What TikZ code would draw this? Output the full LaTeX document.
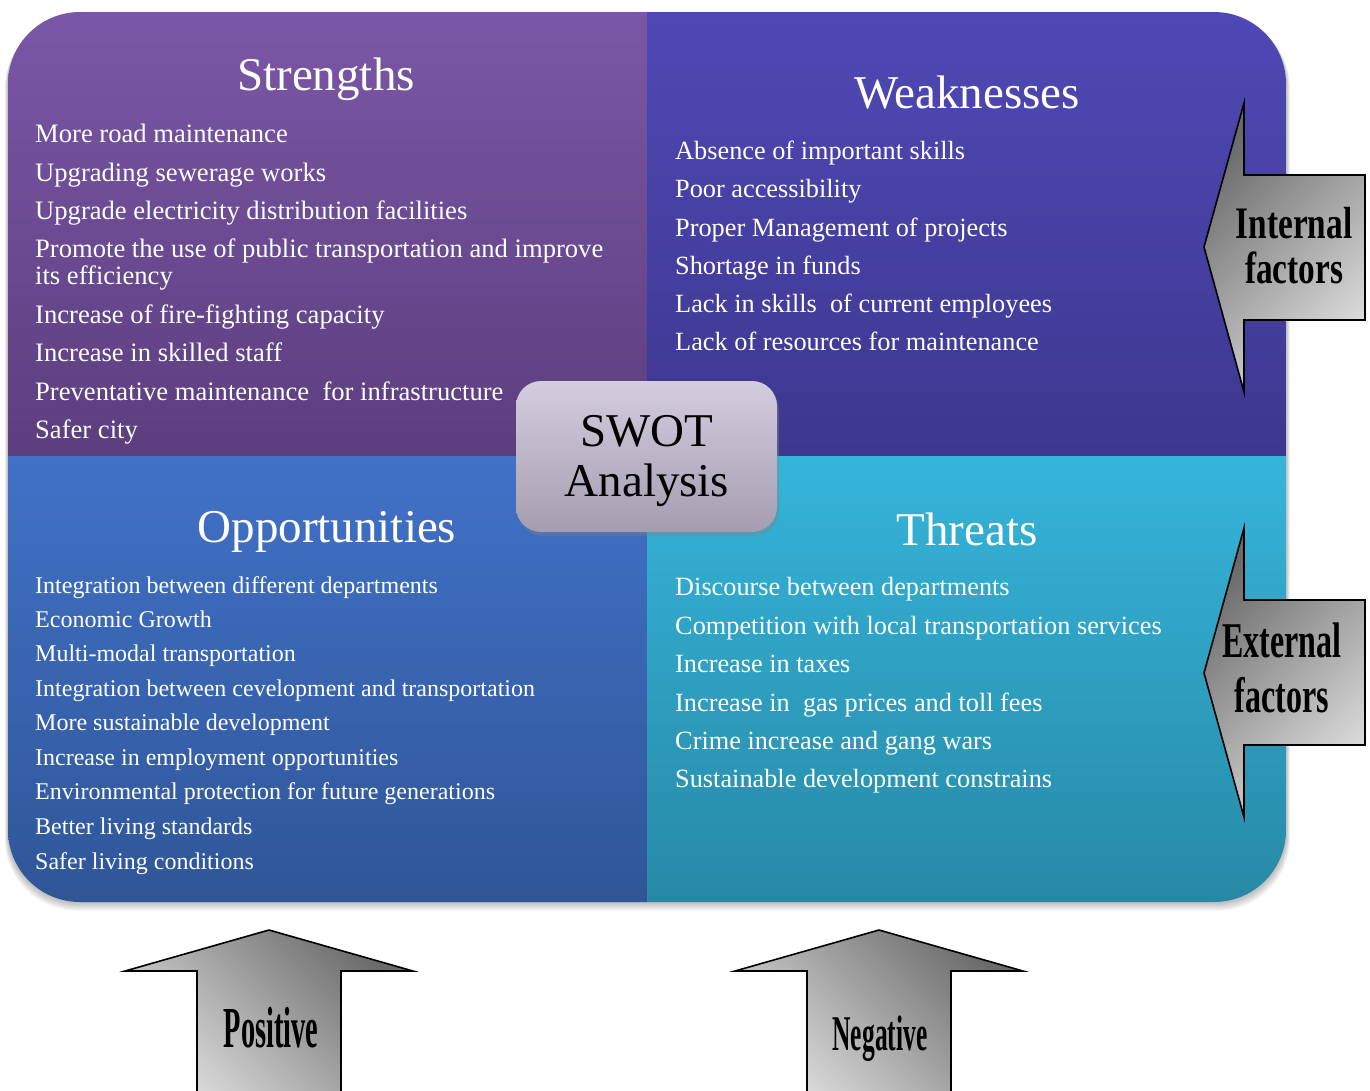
\documentclass[tikz,border=0pt]{standalone}
\usepackage{fontspec}
\setmainfont{Liberation Serif}
\usetikzlibrary{shadows}
\definecolor{sTop}{HTML}{7B58A7}
\definecolor{sBot}{HTML}{5C3E7E}
\definecolor{wTop}{HTML}{5049B6}
\definecolor{wBot}{HTML}{3D378F}
\definecolor{oTop}{HTML}{4172C8}
\definecolor{oBot}{HTML}{2F5596}
\definecolor{tTop}{HTML}{35B5DA}
\definecolor{tBot}{HTML}{2788A5}
\definecolor{cTop}{HTML}{D4CDE0}
\definecolor{cBot}{HTML}{A39DAF}
\definecolor{arDark}{HTML}{6A6A6A}
\definecolor{arLight}{HTML}{DEDEDE}
\begin{document}
\begin{tikzpicture}[x=1pt,y=-1pt,
  bodyA/.style={anchor=base west,text=white,inner sep=0pt,font=\fontsize{26.6}{28}\selectfont},
  bodyB/.style={anchor=base west,text=white,inner sep=0pt,font=\fontsize{26.3}{28}\selectfont},
  bodyC/.style={anchor=base west,text=white,inner sep=0pt,font=\fontsize{24}{26}\selectfont},
  quadtitle/.style={anchor=base,text=white,inner sep=0pt,font=\fontsize{47}{50}\selectfont},
  bigarrow/.style={draw=black,line width=1.6pt,line join=miter,top color=arDark,bottom color=arLight},
  arrowtext/.style={anchor=base,inner sep=0pt,text=black}]
\useasboundingbox (0,0) rectangle (1370,1090);
% soft shadow of the main panel
\foreach \i in {1,...,8}
  \fill[black,opacity=0.035,rounded corners=72pt] (8-\i*0.4,12+\i*0.6) rectangle (1286+\i*0.5,902+\i*1.1);
% quadrants
\begin{scope}
  \clip[rounded corners=72pt] (8,12) rectangle (1286,902);
  \shade[top color=sTop,bottom color=sBot] (0,0) rectangle (647,456);
  \shade[top color=wTop,bottom color=wBot] (647,0) rectangle (1300,456);
  \shade[top color=oTop,bottom color=oBot] (0,456) rectangle (647,910);
  \shade[top color=tTop,bottom color=tBot] (647,456) rectangle (1300,910);
\end{scope}
% titles
\node[quadtitle] (st) at (326,90) {Strengths};
\node[quadtitle] (wt) at (967,108) {Weaknesses};
\node[quadtitle] (ot) at (327,542) {Opportunities};
\node[quadtitle] (tt) at (967,545) {Threats};
% strengths
\node[bodyA] (s1) at (35,142) {More road maintenance};
\node[bodyA] (s2) at (35,181) {Upgrading sewerage works};
\node[bodyA] (s3) at (35,219) {Upgrade electricity distribution facilities};
\node[bodyA] (s4) at (35,257) {Promote the use of public transportation and improve};
\node[bodyA] (s4b) at (35,284) {its efficiency};
\node[bodyA] (s5) at (35,323) {Increase of fire-fighting capacity};
\node[bodyA] (s6) at (35,361) {Increase in skilled staff};
\node[bodyA] (s7) at (35,400) {Preventative maintenance\ \ for infrastructure};
\node[bodyA] (s8) at (35,438) {Safer city};
% weaknesses
\node[bodyB] (w1) at (675,159) {Absence of important skills};
\node[bodyB] (w2) at (675,197) {Poor accessibility};
\node[bodyB] (w3) at (675,236) {Proper Management of projects};
\node[bodyB] (w4) at (675,274) {Shortage in funds};
\node[bodyB] (w5) at (675,312) {Lack in skills\ \ of current employees};
\node[bodyB] (w6) at (675,350) {Lack of resources for maintenance};
% opportunities
\node[bodyC] (o1) at (35,593) {Integration between different departments};
\node[bodyC] (o2) at (35,627) {Economic Growth};
\node[bodyC] (o3) at (35,661) {Multi-modal transportation};
\node[bodyC] (o4) at (35,696) {Integration between cevelopment and transportation};
\node[bodyC] (o5) at (35,730) {More sustainable development};
\node[bodyC] (o6) at (35,765) {Increase in employment opportunities};
\node[bodyC] (o7) at (35,799) {Environmental protection for future generations};
\node[bodyC] (o8) at (35,834) {Better living standards};
\node[bodyC] (o9) at (35,869) {Safer living conditions};
% threats
\node[bodyB] (t1) at (675,595) {Discourse between departments};
\node[bodyB] (t2) at (675,634) {Competition with local transportation services};
\node[bodyB] (t3) at (675,672) {Increase in taxes};
\node[bodyB] (t4) at (675,711) {Increase in\ \ gas prices and toll fees};
\node[bodyB] (t5) at (675,749) {Crime increase and gang wars};
\node[bodyB] (t6) at (675,787) {Sustainable development constrains};
% centre box
\node[rounded corners=25pt,minimum width=261pt,minimum height=151pt,inner sep=0pt,
  top color=cTop,bottom color=cBot,
  drop shadow={opacity=0.35,shadow xshift=2pt,shadow yshift=-4pt}] (swot) at (646.5,456.5) {};
\node[anchor=base,inner sep=0pt,font=\fontsize{47}{50}\selectfont] (swot1) at (647,446) {SWOT};
\node[anchor=base,inner sep=0pt,font=\fontsize{47}{50}\selectfont] (swot2) at (647,496) {Analysis};
% side arrows
\path[bigarrow,shading angle=45] (1365,175) -- (1244,175) -- (1244,103) -- (1204,247) -- (1244,392) -- (1244,320) -- (1365,320) -- cycle;
\node[arrowtext,font=\fontsize{45}{45}\selectfont\bfseries] (int1) at (1294,238) {\scalebox{0.74}[1]{Internal}};
\node[arrowtext,font=\fontsize{45}{45}\selectfont\bfseries] (int2) at (1294,283) {\scalebox{0.74}[1]{factors}};
\path[bigarrow,shading angle=45] (1365,600) -- (1244,600) -- (1244,528) -- (1204,673) -- (1244,817) -- (1244,745) -- (1365,745) -- cycle;
\node[arrowtext,font=\fontsize{50}{50}\selectfont\bfseries] (ext1) at (1282,657) {\scalebox{0.64}[1]{External}};
\node[arrowtext,font=\fontsize{50}{50}\selectfont\bfseries] (ext2) at (1282,712) {\scalebox{0.64}[1]{factors}};
% bottom arrows
\path[bigarrow,shading angle=-45] (197,1100) -- (197,971) -- (125,971) -- (269,930) -- (413,971) -- (341,971) -- (341,1100) -- cycle;
\node[arrowtext,font=\fontsize{58}{58}\selectfont\bfseries] (pos) at (271,1047) {\scalebox{0.49}[1]{Positive}};
\path[bigarrow,shading angle=-45] (807,1100) -- (807,971) -- (735,971) -- (879,930) -- (1023,971) -- (951,971) -- (951,1100) -- cycle;
\node[arrowtext,font=\fontsize{50}{50}\selectfont\bfseries] (neg) at (880,1050) {\scalebox{0.51}[1]{Negative}};
\end{tikzpicture}
\end{document}
